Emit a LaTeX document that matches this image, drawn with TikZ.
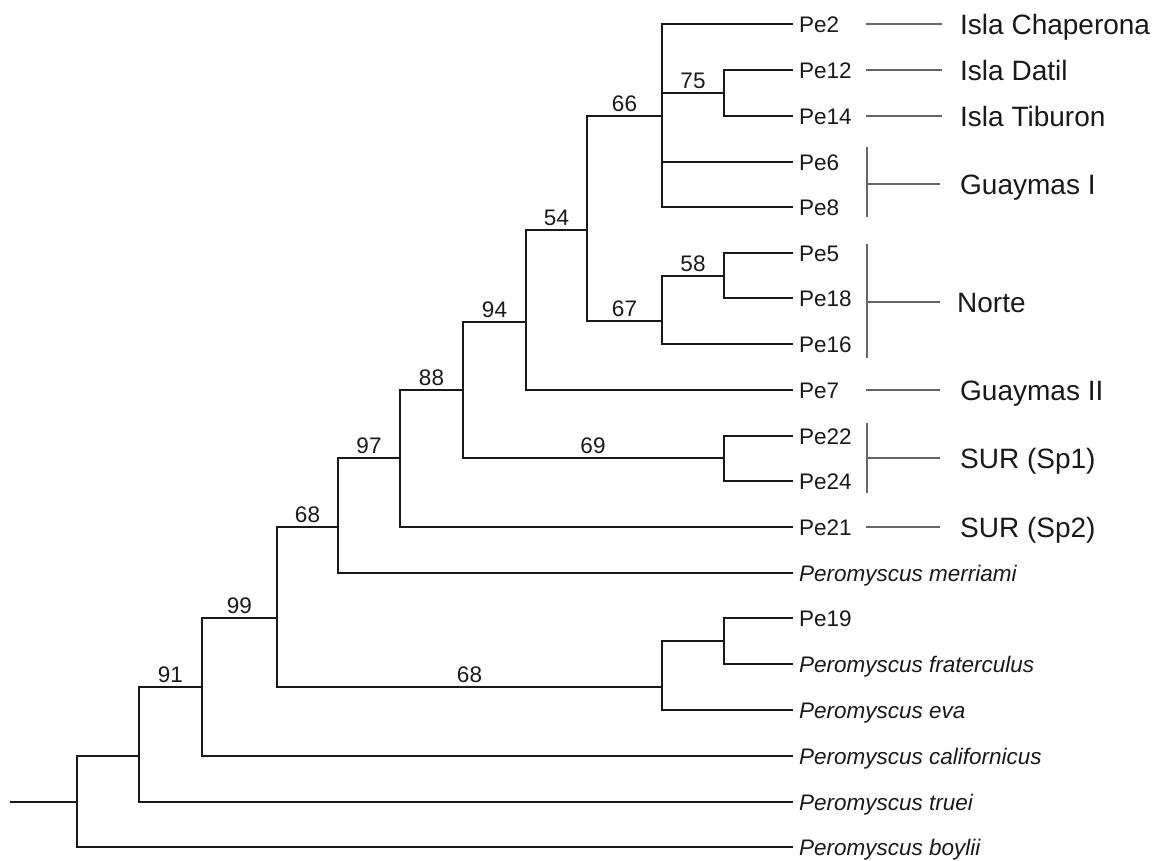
\documentclass[tikz,border=0pt]{standalone}
\usepackage{fontspec}
\setmainfont{Liberation Sans}
\begin{document}
\begin{tikzpicture}[x=1pt,y=-1pt,
  br/.style={line width=2.4pt, line join=miter, draw=black!90},
  conn/.style={line width=1.1pt, draw=black!60},
  leaf/.style={anchor=base west, inner sep=0pt, font=\fontsize{22.5}{27}\selectfont, text=black!90},
  sp/.style={leaf, font=\fontsize{22.5}{27}\selectfont\itshape},
  grp/.style={anchor=base west, inner sep=0pt, font=\fontsize{28}{34}\selectfont, text=black!90},
  bs/.style={anchor=base, inner sep=0pt, font=\fontsize{22.5}{27}\selectfont, text=black!90}]
\useasboundingbox (0,0) rectangle (1161,860);

% internal nodes
\coordinate (r0) at (10,802);
\coordinate (root) at (77,802);
\coordinate (n1) at (139,756);
\coordinate (n91) at (202,687);
\coordinate (n99) at (277,618);
\coordinate (n68u) at (338,527);
\coordinate (n97) at (400,458);
\coordinate (n88) at (463,390);
\coordinate (n94) at (526,322);
\coordinate (n54) at (587,230);
\coordinate (n66) at (662,116);
\coordinate (n75) at (724,93);
\coordinate (n67) at (662,321);
\coordinate (n58) at (724,276);
\coordinate (n69) at (724,458);
\coordinate (n68l) at (662,687);
\coordinate (n19) at (724,641);

% tips
\foreach \n/\y in {Pe2/24,Pe12/70,Pe14/116,Pe6/162,Pe8/207,Pe5/253,Pe18/298,Pe16/344,Pe7/390,Pe22/436,Pe24/481,Pe21/527,mer/573,Pe19/618,fra/664,eva/710,cal/756,tru/802,boy/847}
  \coordinate (t\n) at (793,\y);

% leaf labels
\node[leaf] (lPe2) at (799,32) {Pe2};
\node[leaf] (lPe12) at (799,78) {Pe12};
\node[leaf] (lPe14) at (799,124) {Pe14};
\node[leaf] (lPe6) at (799,170) {Pe6};
\node[leaf] (lPe8) at (799,215) {Pe8};
\node[leaf] (lPe5) at (799,261) {Pe5};
\node[leaf] (lPe18) at (799,306) {Pe18};
\node[leaf] (lPe16) at (799,352) {Pe16};
\node[leaf] (lPe7) at (799,398) {Pe7};
\node[leaf] (lPe22) at (799,444) {Pe22};
\node[leaf] (lPe24) at (799,489) {Pe24};
\node[leaf] (lPe21) at (799,535) {Pe21};
\node[sp] (lmer) at (799,581) {Peromyscus merriami};
\node[leaf] (lPe19) at (799,626) {Pe19};
\node[sp] (lfra) at (799,672) {Peromyscus fraterculus};
\node[sp] (leva) at (799,718) {Peromyscus eva};
\node[sp] (lcal) at (799,764) {Peromyscus californicus};
\node[sp] (ltru) at (799,810) {Peromyscus truei};
\node[sp] (lboy) at (799,855) {Peromyscus boylii};

% tree branches
\draw[br] (r0) -- (root);
\draw[br] (root) |- (n1);
\draw[br] (root) |- (tboy);
\draw[br] (n1) |- (n91);
\draw[br] (n1) |- (ttru);
\draw[br] (n91) |- (n99);
\draw[br] (n91) |- (tcal);
\draw[br] (n99) |- (n68u);
\draw[br] (n99) |- (n68l);
\draw[br] (n68l) |- (n19);
\draw[br] (n68l) |- (teva);
\draw[br] (n19) |- (tPe19);
\draw[br] (n19) |- (tfra);
\draw[br] (n68u) |- (n97);
\draw[br] (n68u) |- (tmer);
\draw[br] (n97) |- (n88);
\draw[br] (n97) |- (tPe21);
\draw[br] (n88) |- (n94);
\draw[br] (n88) |- (n69);
\draw[br] (n69) |- (tPe22);
\draw[br] (n69) |- (tPe24);
\draw[br] (n94) |- (n54);
\draw[br] (n94) |- (tPe7);
\draw[br] (n54) |- (n66);
\draw[br] (n54) |- (n67);
\draw[br] (n66) |- (tPe2);
\draw[br] (n66) |- (n75);
\draw[br] (n66) |- (tPe6);
\draw[br] (n66) |- (tPe8);
\draw[br] (n75) |- (tPe12);
\draw[br] (n75) |- (tPe14);
\draw[br] (n67) |- (n58);
\draw[br] (n67) |- (tPe16);
\draw[br] (n58) |- (tPe5);
\draw[br] (n58) |- (tPe18);

% bootstrap values
\node[bs] (b91) at (170.5,682) {91};
\node[bs] (b99) at (239.5,613) {99};
\node[bs] (b68u) at (307.5,522) {68};
\node[bs] (b97) at (369,453) {97};
\node[bs] (b88) at (431.5,385) {88};
\node[bs] (b94) at (494.5,317) {94};
\node[bs] (b54) at (556.5,225) {54};
\node[bs] (b66) at (624.5,111) {66};
\node[bs] (b67) at (624.5,316) {67};
\node[bs] (b75) at (693,88) {75};
\node[bs] (b58) at (693,271) {58};
\node[bs] (b69) at (593,453) {69};
\node[bs] (b68l) at (469.5,682) {68};

% group connectors
\coordinate (c2a) at (866,24);   \coordinate (c2b) at (942,24);
\coordinate (c12a) at (866,70);  \coordinate (c12b) at (942,70);
\coordinate (c14a) at (866,116); \coordinate (c14b) at (942,116);
\coordinate (gIa) at (867,147);  \coordinate (gIb) at (867,217);
\coordinate (gIm) at (867,184);  \coordinate (gIe) at (940,184);
\coordinate (nOa) at (867,244);  \coordinate (nOb) at (867,358);
\coordinate (nOm) at (867,302);  \coordinate (nOe) at (940,302);
\coordinate (c7a) at (866,390);  \coordinate (c7b) at (940,390);
\coordinate (s1a) at (867,423);  \coordinate (s1b) at (867,493);
\coordinate (s1m) at (867,458);  \coordinate (s1e) at (940,458);
\coordinate (c21a) at (866,527); \coordinate (c21b) at (940,527);

\draw[conn] (c2a) -- (c2b);
\draw[conn] (c12a) -- (c12b);
\draw[conn] (c14a) -- (c14b);
\draw[conn] (gIa) -- (gIb);
\draw[conn] (gIm) -- (gIe);
\draw[conn] (nOa) -- (nOb);
\draw[conn] (nOm) -- (nOe);
\draw[conn] (c7a) -- (c7b);
\draw[conn] (s1a) -- (s1b);
\draw[conn] (s1m) -- (s1e);
\draw[conn] (c21a) -- (c21b);

% group labels
\node[grp] (gChap) at (960,34) {Isla Chaperona};
\node[grp] (gDat) at (960,80) {Isla Datil};
\node[grp] (gTib) at (960,126) {Isla Tiburon};
\node[grp] (gGI) at (960,194) {Guaymas I};
\node[grp] (gNor) at (957,312) {Norte};
\node[grp] (gGII) at (960,400) {Guaymas II};
\node[grp] (gS1) at (960,468) {SUR (Sp1)};
\node[grp] (gS2) at (960,537) {SUR (Sp2)};
\end{tikzpicture}
\end{document}
